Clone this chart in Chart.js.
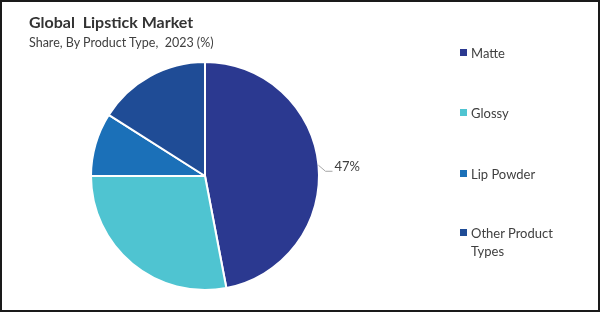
<!DOCTYPE html>
<html>
<head>
<meta charset="utf-8">
<script src="https://cdn.jsdelivr.net/npm/chart.js@4"></script>
<style>
  body { margin: 0; background: #fff; }
  #frame {
    position: absolute; left: 0; top: 0; width: 600px; height: 312px;
    box-sizing: border-box; border: 2px solid #1a1a1a; background: #fff;
    font-family: "Lato", "Open Sans", sans-serif;
  }
  #chart { position: absolute; left: -2px; top: -2px; }
  .title { position: absolute; left: 27px; top: 10px; font-size: 16px; font-weight: bold; color: #333; }
  .subtitle { position: absolute; left: 27px; top: 33px; font-size: 12.5px; color: #404040; }
  .legend { position: absolute; left: 456px; top: 0; }
  .legend div { position: absolute; width: 140px; font-size: 13px; color: #404040; line-height: 18px; padding-left: 13px; }
  .legend span { position: absolute; left: 2px; top: 5px; width: 7px; height: 7px; }
</style>
</head>
<body>
<div id="frame">
  <canvas id="chart" width="600" height="312"></canvas>
  <div class="title">Global&nbsp; Lipstick Market</div>
  <div class="subtitle">Share, By Product Type,&nbsp; 2023 (%)</div>
  <div class="legend" id="legend"></div>
</div>
<script>
// chart data
const categories = ["Matte", "Glossy", "Lip Powder", "Other Product Types"];
const shares = [47, 28, 9, 16];
const dataLabels = ["47%", null, null, null];
const colors = ["#2b3990", "#4fc4d1", "#1b70b8", "#1f4c96"];

// legend on the right, one row per category
const legendEl = document.getElementById("legend");
const legendTops = [42, 102, 163, 222];
categories.forEach((name, i) => {
  const row = document.createElement("div");
  row.style.top = legendTops[i] + "px";
  row.innerHTML = '<span style="background:' + colors[i] + '"></span>' +
    (name === "Other Product Types" ? "Other Product<br>Types" : name);
  legendEl.appendChild(row);
});

// draws the "47%" label with a small leader line
const leaderLabels = {
  id: "leaderLabels",
  afterDatasetsDraw(chart) {
    const ctx = chart.ctx;
    const meta = chart.getDatasetMeta(0);
    meta.data.forEach((arc, i) => {
      if (!dataLabels[i]) return;
      const mid = (arc.startAngle + arc.endAngle) / 2;
      const r = arc.outerRadius;
      const x0 = arc.x + Math.cos(mid) * r;
      const y0 = arc.y + Math.sin(mid) * r;
      const x1 = x0 + 7;
      const y1 = y0 + 6;
      const x2 = x1 + 7;
      ctx.save();
      ctx.strokeStyle = "#a6a6a6";
      ctx.lineWidth = 1;
      ctx.beginPath();
      ctx.moveTo(x0, y0);
      ctx.lineTo(x1, y1);
      ctx.lineTo(x2, y1);
      ctx.stroke();
      ctx.fillStyle = "#404040";
      ctx.font = "13px Lato, 'Open Sans', sans-serif";
      ctx.textBaseline = "middle";
      ctx.fillText(dataLabels[i], x2 + 2, y1 - 4);
      ctx.restore();
    });
  }
};

new Chart(document.getElementById("chart"), {
  type: "pie",
  data: {
    labels: categories,
    datasets: [{
      data: shares,
      backgroundColor: colors,
      borderColor: "#ffffff",
      borderWidth: 2,
    }],
  },
  options: {
    responsive: false,
    animation: false,
    layout: { padding: { top: 61, bottom: 21, left: 90, right: 280 } },
    plugins: {
      legend: { display: false },
      tooltip: { enabled: false },
    },
  },
  plugins: [leaderLabels],
});
</script>
</body>
</html>
